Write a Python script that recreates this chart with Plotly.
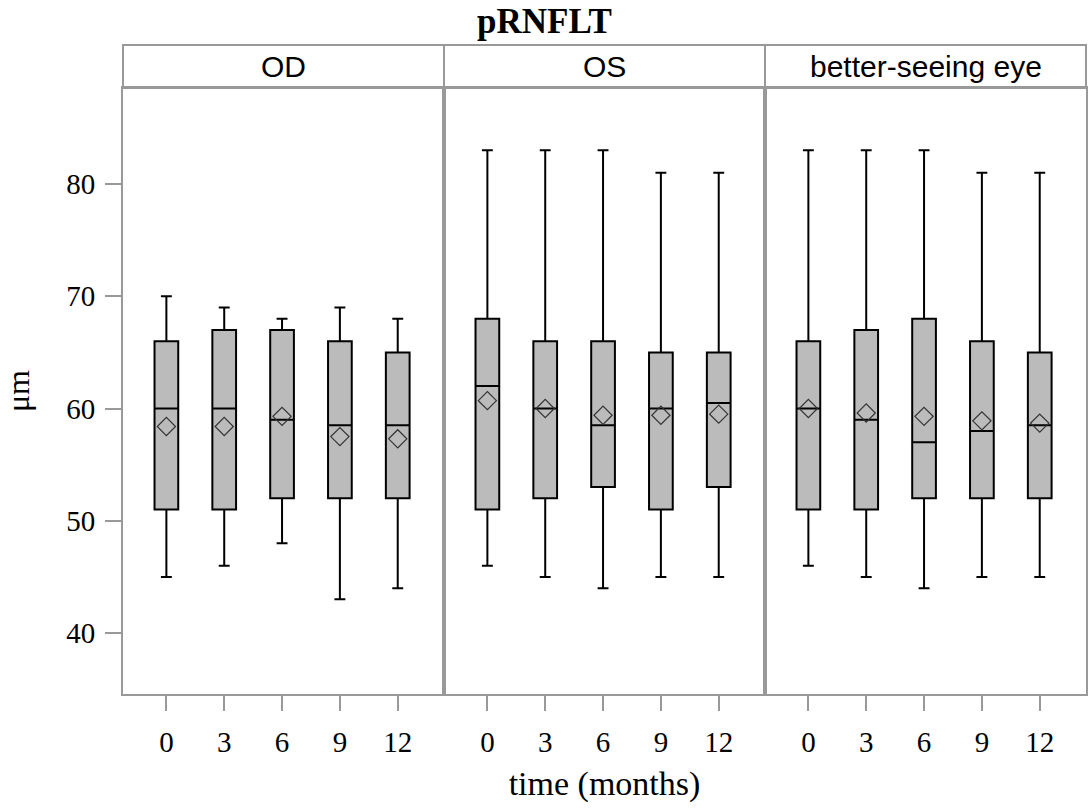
import plotly.graph_objects as go

times = ["0", "3", "6", "9", "12"]
panels = ["OD", "OS", "better-seeing eye"]

lower = {
    "OD": [45, 46, 48, 43, 44],
    "OS": [46, 45, 44, 45, 45],
    "better-seeing eye": [46, 45, 44, 45, 45],
}
q1 = {
    "OD": [51, 51, 52, 52, 52],
    "OS": [51, 52, 53, 51, 53],
    "better-seeing eye": [51, 51, 52, 52, 52],
}
median = {
    "OD": [60, 60, 59, 58.5, 58.5],
    "OS": [62, 60, 58.5, 60, 60.5],
    "better-seeing eye": [60, 59, 57, 58, 58.5],
}
q3 = {
    "OD": [66, 67, 67, 66, 65],
    "OS": [68, 66, 66, 65, 65],
    "better-seeing eye": [66, 67, 68, 66, 65],
}
upper = {
    "OD": [70, 69, 68, 69, 68],
    "OS": [83, 83, 83, 81, 81],
    "better-seeing eye": [83, 83, 83, 81, 81],
}
mean = {
    "OD": [58.4, 58.4, 59.3, 57.5, 57.3],
    "OS": [60.7, 60.0, 59.4, 59.4, 59.5],
    "better-seeing eye": [60.0, 59.6, 59.3, 58.9, 58.7],
}

yticks = [40, 50, 60, 70, 80]

fig = go.Figure()
serif = "Liberation Serif"
sans = "Liberation Sans"

for i, p in enumerate(panels):
    xa = "x" if i == 0 else f"x{i+1}"
    ya = "y" if i == 0 else f"y{i+1}"
    fig.add_trace(go.Box(
        x=times, q1=q1[p], median=median[p], q3=q3[p],
        lowerfence=lower[p], upperfence=upper[p],
        fillcolor="#BBBBBB", line=dict(color="black", width=2),
        width=0.41, whiskerwidth=0.46, boxpoints=False,
        xaxis=xa, yaxis=ya, showlegend=False, hoverinfo="skip",
    ))
    fig.add_trace(go.Scatter(
        x=times, y=mean[p], mode="markers",
        marker=dict(symbol="diamond-open", size=14, color="#333333",
                    line=dict(width=1.2, color="#333333")),
        xaxis=xa, yaxis=ya, showlegend=False, hoverinfo="skip",
    ))

strip_h = 43 / 606
axis_common = dict(showline=True, mirror=True, linecolor="#999999", linewidth=2,
                   showgrid=False, zeroline=False)
layout = dict(
    width=1089, height=809,
    margin=dict(l=123, r=1, t=88, b=115),
    plot_bgcolor="white", paper_bgcolor="white",
    title=dict(text="<b>pRNFLT</b>", x=0.5, xanchor="center", y=1 - 21 / 809, yanchor="middle",
               font=dict(family=serif, size=35, color="black")),
    showlegend=False,
)
for i in range(3):
    sfx = "" if i == 0 else str(i + 1)
    layout[f"xaxis{sfx}"] = dict(
        domain=[i / 3, (i + 1) / 3], type="category", categoryorder="array",
        categoryarray=times, range=[-0.75, 4.8],
        ticks="outside", ticklen=15, tickcolor="#999999", tickwidth=2,
        ticklabelstandoff=6,
        tickfont=dict(family=serif, size=29, color="black"),
        anchor="y" + sfx, **axis_common,
    )
    layout[f"yaxis{sfx}"] = dict(
        domain=[0, 1], range=[34.57, 88.55], anchor="x" + sfx,
        tickvals=yticks, ticks="outside" if i == 0 else "", ticklen=16,
        tickcolor="#999999", tickwidth=2,
        showticklabels=(i == 0),
        ticklabelstandoff=4,
        tickfont=dict(family=serif, size=29, color="black"),
        **axis_common,
    )
    if i > 0:
        layout[f"yaxis{sfx}"]["matches"] = "y"

layout["xaxis2"]["title"] = dict(text="time (months)", font=dict(family=serif, size=34, color="black"),
                                 standoff=14)
layout["yaxis"]["title"] = dict(text="μm", font=dict(family=serif, size=32, color="black"), standoff=33)

shapes = []
annotations = []
for i, p in enumerate(panels):
    shapes.append(dict(type="rect", xref="paper", yref="paper",
                       x0=i / 3, x1=(i + 1) / 3, y0=1, y1=1 + strip_h,
                       line=dict(color="#999999", width=2), fillcolor="white", layer="below"))
    annotations.append(dict(text=p, xref="paper", yref="paper", x=(i + 0.5) / 3,
                            y=1 + strip_h / 2, showarrow=False, xanchor="center", yanchor="middle",
                            font=dict(family=sans, size=30, color="black")))
layout["shapes"] = shapes
layout["annotations"] = annotations
fig.update_layout(**layout)

fig.write_html("out.html", config={"displayModeBar": False},
               post_script="document.body.style.margin='0';document.body.style.overflow='hidden';")
